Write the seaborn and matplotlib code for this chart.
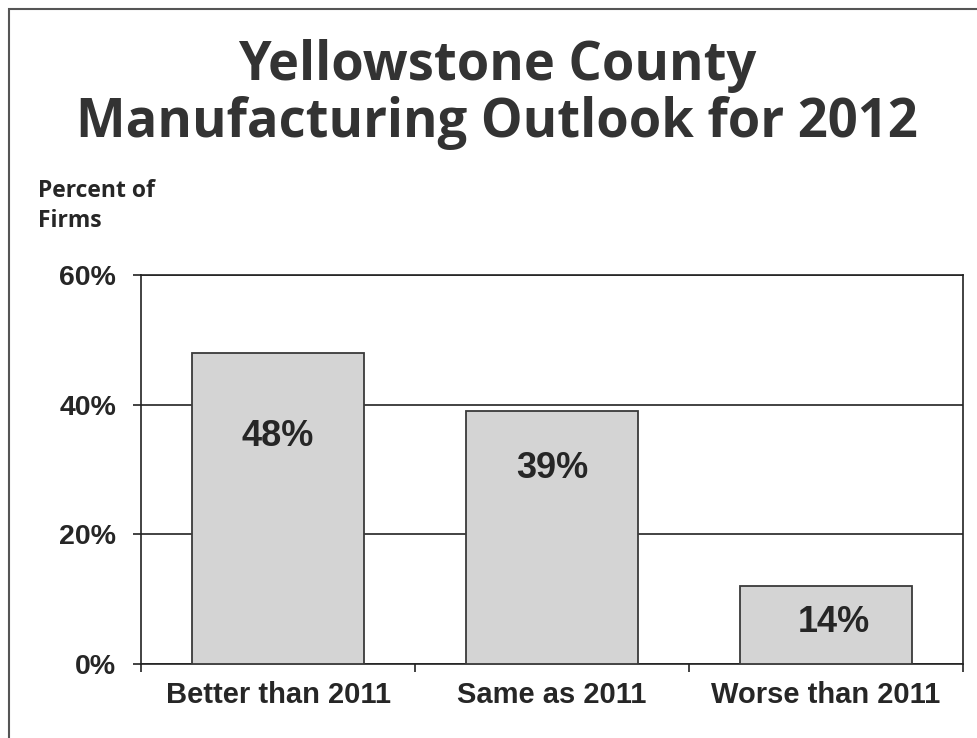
import numpy as np
import pandas as pd
import matplotlib.pyplot as plt
import seaborn as sns
from matplotlib.patches import Rectangle
from matplotlib.ticker import FixedLocator

# data
categories = ["Better than 2011", "Same as 2011", "Worse than 2011"]
bar_heights = [48, 39, 12]          # heights as drawn
bar_labels = ["48%", "39%", "14%"]  # labels as printed
y_ticks = [0, 20, 40, 60]
y_tick_labels = ["0%", "20%", "40%", "60%"]

df = pd.DataFrame({"outlook": categories, "pct": bar_heights})

sns.set_style("white")
plt.rcParams["font.family"] = ["Liberation Sans", "DejaVu Sans"]

fig = plt.figure(figsize=(9.78, 7.38), dpi=100)
ax = fig.add_axes([0.1442, 0.1003, 0.8405, 0.5271])

sns.barplot(data=df, x="outlook", y="pct", color="#d4d4d4", saturation=1,
            edgecolor="#3a3a3a", linewidth=1.3, width=0.625, ax=ax, zorder=3)

ax.set_ylim(0, 60)
ax.set_xlim(-0.5, 2.5)
ax.set_yticks(y_ticks)
ax.set_yticklabels(y_tick_labels, fontsize=20.5, fontweight="bold")
ax.set_xticks(range(len(categories)))
ax.set_xticklabels(categories, fontsize=21, fontweight="bold")
ax.tick_params(axis="x", length=0, pad=12)
ax.tick_params(axis="y", length=6, width=1.2, color="#222222", pad=12, left=True)
ax.xaxis.set_minor_locator(FixedLocator([-0.5, 0.5, 1.5, 2.5]))
ax.tick_params(axis="x", which="minor", length=6, width=1.2, color="#222222", bottom=True)
ax.set_xlabel("")
ax.set_ylabel("")
ax.yaxis.grid(True, color="#222222", linewidth=1.2)
ax.set_axisbelow(True)
for s in ax.spines.values():
    s.set_color("#222222")
    s.set_linewidth(1.2)

# labels inside bars
label_drop = [84, 57, 36]  # px below bar top
label_shift = [0, 0, 8]    # px to the right
for i, (h, lab) in enumerate(zip(bar_heights, bar_labels)):
    ax.annotate(lab, (i, h), xytext=(label_shift[i] * 0.72, -label_drop[i] * 0.72),
                textcoords="offset points", ha="center", va="center",
                fontsize=26, fontweight="bold", zorder=5)

fig.text(0.508, 0.910, "Yellowstone County", ha="center", va="center",
         fontsize=37.8, fontweight="bold", color="#333333", family="Open Sans")
fig.text(0.508, 0.834, "Manufacturing Outlook for 2012", ha="center", va="center",
         fontsize=37.8, fontweight="bold", color="#333333", family="Open Sans")
fig.text(0.039, 0.721, "Percent of\nFirms", ha="left", va="center", fontsize=16.5,
         fontweight="bold", linespacing=1.35, family="Open Sans")

# page border
fig.patches.append(Rectangle((9 / 978, -0.05), 1.2, 1.05 - 9 / 738, transform=fig.transFigure,
                             fill=False, edgecolor="#555555", linewidth=1.5))

fig.savefig("out.png", dpi=100)
